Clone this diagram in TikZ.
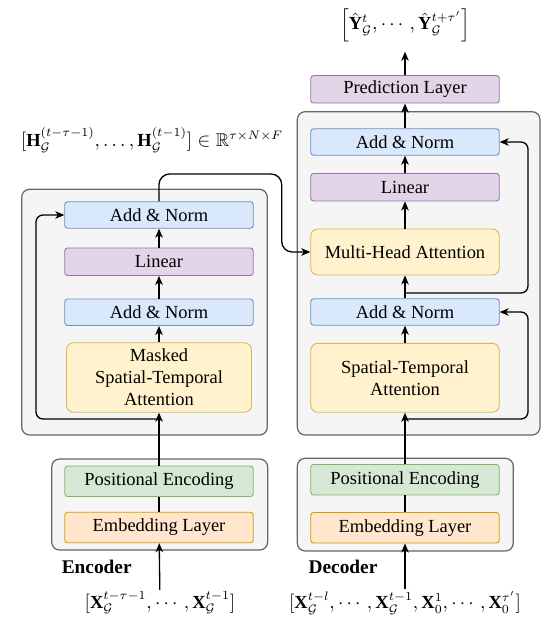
\documentclass[tikz,border=0pt]{standalone}
\usepackage{fontspec}
\setmainfont{Liberation Serif}
\usepackage{amsmath,amssymb}
\usetikzlibrary{arrows.meta}

\definecolor{anfill}{HTML}{DAE8FC}
\definecolor{andraw}{HTML}{6C8EBF}
\definecolor{linfill}{HTML}{E1D5E7}
\definecolor{lindraw}{HTML}{9673A6}
\definecolor{attfill}{HTML}{FFF2CC}
\definecolor{attdraw}{HTML}{D6B656}
\definecolor{pefill}{HTML}{D5E8D4}
\definecolor{pedraw}{HTML}{82B366}
\definecolor{emfill}{HTML}{FFE6CC}
\definecolor{emdraw}{HTML}{D79B00}
\definecolor{grpfill}{HTML}{F5F5F5}
\definecolor{grpdraw}{HTML}{666666}

\begin{document}
\begin{tikzpicture}[x=0.02cm,y=-0.02cm,
    blk/.style={draw, rounded corners=1.6pt, line width=0.5pt, minimum width=3.77cm, align=center, inner sep=1pt, font=\fontsize{10.5}{12.6}\selectfont},
    addnorm/.style={blk, fill=anfill, draw=andraw, minimum height=0.53cm},
    linear/.style={blk, fill=linfill, draw=lindraw, minimum height=0.55cm},
    attn/.style={blk, fill=attfill, draw=attdraw, rounded corners=4pt},
    posenc/.style={blk, fill=pefill, draw=pedraw, minimum height=0.61cm},
    embed/.style={blk, fill=emfill, draw=emdraw, minimum height=0.61cm},
    group/.style={draw=grpdraw, fill=grpfill, line width=0.7pt, rounded corners=4.5pt},
    arr/.style={line width=0.75pt, -{Stealth[length=0.18cm,width=0.15cm,inset=0.05cm]}},
    link/.style={line width=0.75pt},
    lbl/.style={font=\fontsize{11}{13}\selectfont\bfseries},
    formula/.style={font=\fontsize{10.5}{12.6}\selectfont, inner sep=1pt}]
    \useasboundingbox (0,0) rectangle (545,622);

    % containers
    \draw[group] (51.7,459) rectangle (267.7,550);
    \draw[group] (21.7,189.3) rectangle (267.3,435);
    \draw[group] (297.3,458.3) rectangle (513.3,551);
    \draw[group] (297.3,111.7) rectangle (540,435);

    % encoder
    \node[embed] (encEmb) at (159,527.5) {Embedding Layer};
    \node[posenc] (encPE) at (159,481.3) {Positional Encoding};
    \node[attn, minimum width=3.7cm, minimum height=1.39cm] (encSTA) at (159,377.5) {Masked\\Spatial-Temporal\\Attention};
    \node[addnorm] (encAN1) at (159,312.3) {Add \& Norm};
    \node[linear] (encLin) at (159,261.7) {Linear};
    \node[addnorm] (encAN2) at (159,215) {Add \& Norm};
    \node[lbl] (encLbl) at (96.7,567) {Encoder};
    \node[formula] (encIn) at (160,603) {$[\mathbf{X}_{\mathcal{G}}^{t-\tau-1},\cdots,\mathbf{X}_{\mathcal{G}}^{t-1}]$};
    \node[formula] (hid) at (152,140) {$[\mathbf{H}_{\mathcal{G}}^{(t-\tau-1)},\ldots,\mathbf{H}_{\mathcal{G}}^{(t-1)}]\in\mathbb{R}^{\tau\times N\times F}$};

    % decoder
    \node[embed] (decEmb) at (405,527.8) {Embedding Layer};
    \node[posenc] (decPE) at (405,479.7) {Positional Encoding};
    \node[attn, minimum height=1.38cm] (decSTA) at (405,377.8) {Spatial-Temporal\\Attention};
    \node[addnorm] (decAN1) at (405,312) {Add \& Norm};
    \node[attn, minimum height=0.92cm] (decMHA) at (405,252) {Multi-Head Attention};
    \node[linear] (decLin) at (405,187.2) {Linear};
    \node[addnorm] (decAN2) at (405,142) {Add \& Norm};
    \node[linear] (pred) at (405,89.3) {Prediction Layer};
    \node[lbl] (decLbl) at (343,567) {Decoder};
    \node[formula] (decIn) at (405,603) {$[\mathbf{X}_{\mathcal{G}}^{t-l},\cdots,\mathbf{X}_{\mathcal{G}}^{t-1},\mathbf{X}_{0}^{1},\cdots,\mathbf{X}_{0}^{\tau'}]$};
    \node[formula] (out) at (405,25) {$\left[\hat{\mathbf{Y}}_{\mathcal{G}}^{t},\cdots,\hat{\mathbf{Y}}_{\mathcal{G}}^{t+\tau'}\right]$};

    \coordinate (encSplit) at (159,419);
    \coordinate (encBend) at (36,419);
    \coordinate (hidTurn) at (281.7,174);
    \coordinate (decSplitA) at (405,419);
    \coordinate (decBendA) at (528,419);
    \coordinate (decSplitB) at (405,293);
    \coordinate (decBendB) at (528,293);

    % encoder flow
    \draw[arr] (encIn) -- (encEmb);
    \draw[link] (encEmb) -- (encPE);
    \draw[arr] (encPE) -- (encSTA);
    \draw[arr] (encSTA) -- (encAN1);
    \draw[arr] (encAN1) -- (encLin);
    \draw[arr] (encLin) -- (encAN2);
    \draw[arr, rounded corners=4pt] (encSplit) -- (encBend) |- (encAN2.west);
    \draw[arr, rounded corners=6pt] (encAN2.north) |- (hidTurn) |- (decMHA.west);

    % decoder flow
    \draw[arr] (decIn) -- (decEmb);
    \draw[link] (decEmb) -- (decPE);
    \draw[arr] (decPE) -- (decSTA);
    \draw[arr] (decSTA) -- (decAN1);
    \draw[arr] (decAN1) -- (decMHA);
    \draw[arr] (decMHA) -- (decLin);
    \draw[arr] (decLin) -- (decAN2);
    \draw[arr] (decAN2) -- (pred);
    \draw[arr, shorten >=0.16cm] (pred) -- (out);
    \draw[arr, rounded corners=4pt] (decSplitA) -- (decBendA) |- (decAN1.east);
    \draw[arr, rounded corners=4pt] (decSplitB) -- (decBendB) |- (decAN2.east);
  \end{tikzpicture}
\end{document}
